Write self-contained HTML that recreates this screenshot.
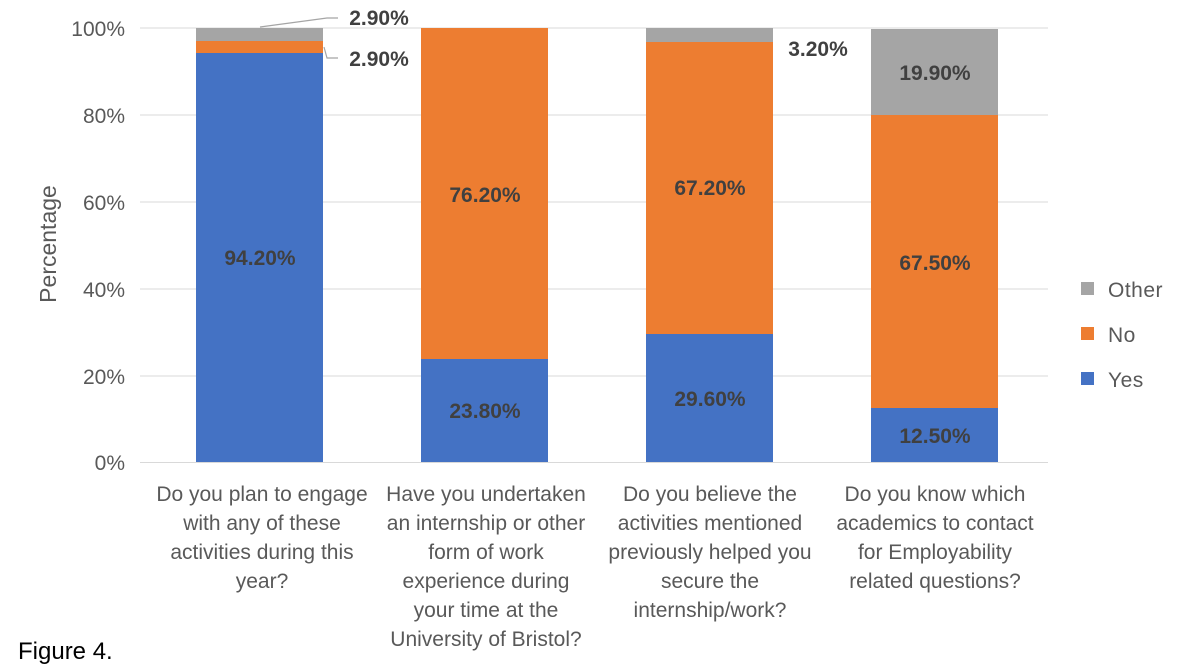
<!DOCTYPE html>
<html><head><meta charset="utf-8"><style>body{margin:0;background:#fff}svg{display:block}text{font-family:"Liberation Sans",Calibri,sans-serif}</style></head>
<body>
<svg width="1189" height="669" viewBox="0 0 1189 669">
<g stroke="#d9d9d9" stroke-width="1">
<line x1="140" x2="1048" y1="28" y2="28"/><line x1="140" x2="1048" y1="115" y2="115"/><line x1="140" x2="1048" y1="202" y2="202"/><line x1="140" x2="1048" y1="289" y2="289"/><line x1="140" x2="1048" y1="376" y2="376"/><line x1="140" x2="1048" y1="462.5" y2="462.5"/>
</g>
<g font-size="21" fill="#595959" text-anchor="end">
<text x="125" y="36">100%</text><text x="125" y="123">80%</text><text x="125" y="210">60%</text><text x="125" y="297">40%</text><text x="125" y="384">20%</text><text x="125" y="470">0%</text>
</g>
<text transform="translate(56,244) rotate(-90)" font-size="23" fill="#595959" text-anchor="middle">Percentage</text>
<rect x="196" y="53" width="127" height="409" fill="#4472c4"/>
<rect x="196" y="41" width="127" height="12" fill="#ed7d31"/>
<rect x="196" y="28" width="127" height="13" fill="#a5a5a5"/>
<rect x="421" y="359" width="127" height="103" fill="#4472c4"/>
<rect x="421" y="28" width="127" height="331" fill="#ed7d31"/>
<rect x="646" y="334" width="127" height="128" fill="#4472c4"/>
<rect x="646" y="42" width="127" height="292" fill="#ed7d31"/>
<rect x="646" y="28" width="127" height="14" fill="#a5a5a5"/>
<rect x="871" y="408" width="127" height="54" fill="#4472c4"/>
<rect x="871" y="115" width="127" height="293" fill="#ed7d31"/>
<rect x="871" y="29" width="127" height="86" fill="#a5a5a5"/>
<polyline points="260,27 327,18 338,18" fill="none" stroke="#a5a5a5" stroke-width="1.2"/>
<polyline points="324,47 327,58 338,58" fill="none" stroke="#a5a5a5" stroke-width="1.2"/>
<g font-size="21" font-weight="bold" fill="#404040" text-anchor="middle">
<text x="379" y="25">2.90%</text><text x="379" y="66">2.90%</text>
<text x="260" y="265">94.20%</text>
<text x="485" y="202">76.20%</text><text x="485" y="418">23.80%</text>
<text x="710" y="195">67.20%</text><text x="710" y="406">29.60%</text><text x="818" y="56">3.20%</text>
<text x="935" y="80">19.90%</text><text x="935" y="270">67.50%</text><text x="935" y="443">12.50%</text>
</g>
<g font-size="21" fill="#595959" text-anchor="middle">
<text x="262" y="501">Do you plan to engage</text><text x="262" y="530">with any of these</text><text x="262" y="559">activities during this</text><text x="262" y="588">year?</text>
<text x="486" y="501">Have you undertaken</text><text x="486" y="530">an internship or other</text><text x="486" y="559">form of work</text><text x="486" y="588">experience during</text><text x="486" y="617">your time at the</text><text x="486" y="646">University of Bristol?</text>
<text x="710" y="501">Do you believe the</text><text x="710" y="530">activities mentioned</text><text x="710" y="559">previously helped you</text><text x="710" y="588">secure the</text><text x="710" y="617">internship/work?</text>
<text x="935" y="501">Do you know which</text><text x="935" y="530">academics to contact</text><text x="935" y="559">for Employability</text><text x="935" y="588">related questions?</text>
</g>
<rect x="1081" y="282" width="13" height="13" fill="#a5a5a5"/>
<rect x="1081" y="327" width="13" height="13" fill="#ed7d31"/>
<rect x="1081" y="372" width="13" height="13" fill="#4472c4"/>
<g font-size="21" fill="#595959" letter-spacing="0.5">
<text x="1108" y="297">Other</text><text x="1108" y="342">No</text><text x="1108" y="387">Yes</text>
</g>
<text x="18" y="659" font-size="24" fill="#000">Figure 4.</text>
</svg>
</body></html>
